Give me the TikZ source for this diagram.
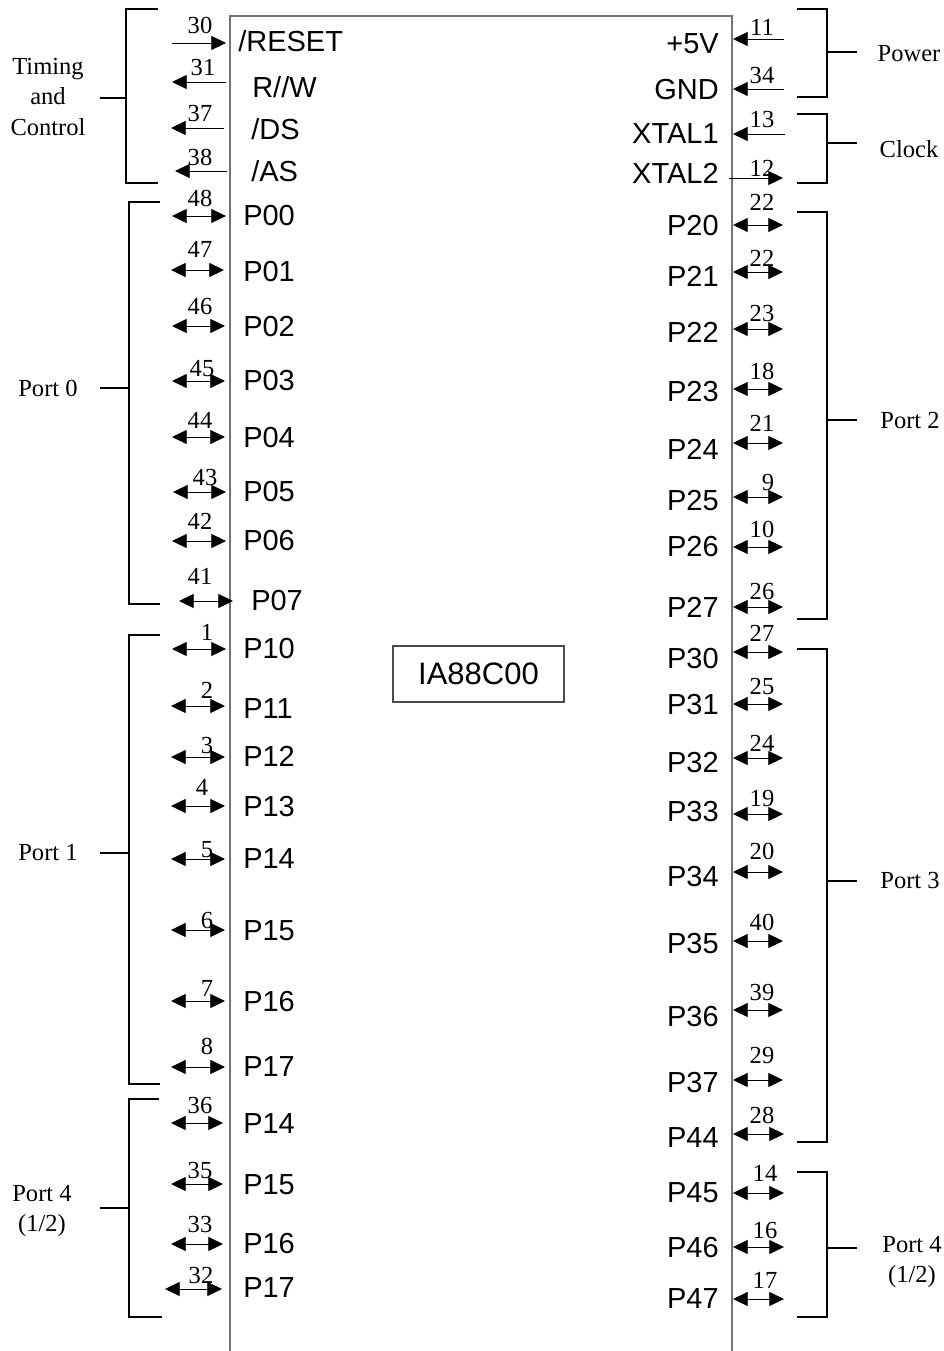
\documentclass[tikz,border=0pt]{standalone}
\usepackage{fontspec}
\setmainfont{Liberation Serif}
\newfontfamily\arialfont{Liberation Sans}
\usetikzlibrary{arrows.meta}
\tikzset{
  >={Triangle[length=11pt,width=10.5pt]},
  chipline/.style={draw=black!55,line width=0.8pt},
  bracket/.style={draw=black,line width=1.5pt},
  pinline/.style={draw=black,line width=0.6pt},
  pinin/.style={->},
  pinout/.style={<-},
  pinbi/.style={<->},
  pintxt/.style={inner sep=0pt,font=\arialfont\fontsize{21.75}{24}\selectfont},
  numtxt/.style={inner sep=0pt,anchor=base,font=\fontsize{18.4}{20}\selectfont},
  grptxt/.style={inner sep=0pt,align=center,font=\fontsize{18.4}{22.9}\selectfont},
  chiptxt/.style={draw=black!70,line width=0.8pt,minimum width=128.25pt,minimum height=42pt,inner sep=0pt,font=\arialfont\fontsize{23.25}{26}\selectfont}
}
\begin{document}
\begin{tikzpicture}[x=0.75pt,y=-0.75pt]
\useasboundingbox (0,0) rectangle (944,1351);
% chip outline
\coordinate (cbl) at (230,1352);
\coordinate (ctl) at (230,16);
\coordinate (ctr) at (732,16);
\coordinate (cbr) at (732,1352);
\draw[chipline] (cbl) -- (ctl) -- (ctr) -- (cbr);
\node[chiptxt] (chip) at (478.5,674) {IA88C00};
% left pins
\foreach \id/\xa/\xb/\y/\st/\n/\nx/\ny/\lab/\lx/\ly in {
30/172/226/43/pinin/30/200/25/{/RESET}/238/41,
31/172/226/82/pinout/31/203/67/{R//W}/252/87,
37/171/224/128/pinout/37/200/113/{/DS}/251/129,
38/175/227/171/pinout/38/200/157/{/AS}/251/171,
48/172/226/216/pinbi/48/200/198/P00/243/215,
47/171/224/270/pinbi/47/200/249/P01/243/271,
46/172/225/326/pinbi/46/200/306/P02/243/326,
45/172/225/381/pinbi/45/202/368/P03/243/380,
44/172/225/437/pinbi/44/200/420/P04/243/437,
43/173/226/492/pinbi/43/205/477/P05/243/491,
42/172/226/541/pinbi/42/200/521/P06/243/540,
41/179/233/601/pinbi/41/200/576/P07/251/600,
1/172/226/649/pinbi/1/207/632/P10/243/648,
2/171/225/706/pinbi/2/207/690/P11/243/708,
3/171/225/757/pinbi/3/207/745/P12/243/756,
4/171/225/806/pinbi/4/202/787/P13/243/806,
5/171/225/859/pinbi/5/207/849/P14/243/858,
6/171/225/930/pinbi/6/207/920/P15/243/930,
7/171/225/1001/pinbi/7/207/988/P16/243/1001,
8/171/225/1067/pinbi/8/207/1046/P17/243/1066,
36/171/223/1123/pinbi/36/200/1105/P14/243/1123,
35/171/223/1184/pinbi/35/200/1170/P15/243/1184,
33/171/223/1244/pinbi/33/200/1224/P16/243/1243,
32/165/222/1289/pinbi/32/201/1275/P17/243/1287}{
  \coordinate (lo\id) at (\xa,\y);
  \coordinate (li\id) at (\xb,\y);
  \draw[pinline,\st] (lo\id) -- (li\id);
  \node[numtxt] (ln\id) at ({\nx},{\ny+8.3}) {\n};
  \node[pintxt,anchor=base west] (ll\id) at ({\lx},{\ly+10.4}) {\lab};
}
% right pins
\foreach \id/\xa/\xb/\y/\st/\n/\nx/\ny/\lab/\ly in {
V5/784/733/39/pinin/11/762/27/{+5V}/43,
GND/784/733/89/pinin/34/762/75/GND/89,
XA/785/733/134/pinin/13/762/119/XTAL1/133,
XB/783/729/178/pinout/12/762/168/XTAL2/173,
P20/783/733/225/pinbi/22/762/202/P20/225,
P21/783/733/272/pinbi/22/762/258/P21/276,
P22/783/733/329/pinbi/23/762/313/P22/332,
P23/783/733/389/pinbi/18/762/371/P23/391,
P24/783/733/443/pinbi/21/762/423/P24/449,
P25/783/733/497/pinbi/9/768/482/P25/500,
P26/783/733/547/pinbi/10/762/529/P26/546,
P27/783/733/607/pinbi/26/762/591/P27/607,
P30/783/733/652/pinbi/27/762/633/P30/658,
P31/783/733/704/pinbi/25/762/686/P31/704,
P32/783/733/758/pinbi/24/762/743/P32/762,
P33/783/733/814/pinbi/19/762/798/P33/811,
P34/783/733/872/pinbi/20/762/851/P34/876,
P35/783/733/941/pinbi/40/762/922/P35/943,
P36/783/733/1010/pinbi/39/762/992/P36/1016,
P37/783/733/1080/pinbi/29/762/1055/P37/1082,
P44/784/733/1134/pinbi/28/762/1115/P44/1137,
P45/784/733/1193/pinbi/14/765/1173/P45/1192,
P46/784/733/1247/pinbi/16/765/1230/P46/1247,
P47/784/733/1299/pinbi/17/765/1280/P47/1298}{
  \coordinate (ro\id) at (\xa,\y);
  \coordinate (ri\id) at (\xb,\y);
  \draw[pinline,\st] (ro\id) -- (ri\id);
  \node[numtxt] (rn\id) at ({\nx},{\ny+8.3}) {\n};
  \node[pintxt,anchor=base east] (rl\id) at ({719},{\ly+10.4}) {\lab};
}
% left brackets
\foreach \id/\top/\bot/\mid/\xv/\xt/\xbt in {
tc/9/183/98/126/158/158,
pz/202/604/388/129/160/160,
po/635/1084/853/129/160/160,
pf/1099/1317/1208/129/159/162}{
  \coordinate (bt\id) at (\xt,\top);
  \coordinate (btc\id) at (\xv,\top);
  \coordinate (bbc\id) at (\xv,\bot);
  \coordinate (bb\id) at (\xbt,\bot);
  \coordinate (bm\id) at (\xv,\mid);
  \coordinate (bk\id) at (100,\mid);
  \draw[bracket] (bt\id) -- (btc\id) -- (bbc\id) -- (bb\id);
  \draw[bracket] (bm\id) -- (bk\id);
}
% right brackets
\foreach \id/\top/\bot/\mid in {
pw/9/97/52,
ck/114/183/143,
pt/212/619/420,
ph/649/1142/881,
pr/1172/1317/1248}{
  \coordinate (bt\id) at (797,\top);
  \coordinate (btc\id) at (827,\top);
  \coordinate (bbc\id) at (827,\bot);
  \coordinate (bb\id) at (797,\bot);
  \coordinate (bm\id) at (827,\mid);
  \coordinate (bk\id) at (857,\mid);
  \draw[bracket] (bt\id) -- (btc\id) -- (bbc\id) -- (bb\id);
  \draw[bracket] (bm\id) -- (bk\id);
}
% group labels
\node[grptxt] (gtc) at (48,97) {Timing\\and\\Control};
\node[grptxt] (gp0) at (48,388) {Port 0};
\node[grptxt] (gp1) at (48,853) {Port 1};
\node[grptxt] (gp4l) at (42,1211) {Port 4\\(1/2)};
\node[grptxt] (gpw) at (909,54) {Power};
\node[grptxt] (gck) at (909,149) {Clock};
\node[grptxt] (gp2) at (910,420) {Port 2};
\node[grptxt] (gp3) at (910,880) {Port 3};
\node[grptxt] (gp4r) at (912,1262) {Port 4\\(1/2)};
\end{tikzpicture}
\end{document}
